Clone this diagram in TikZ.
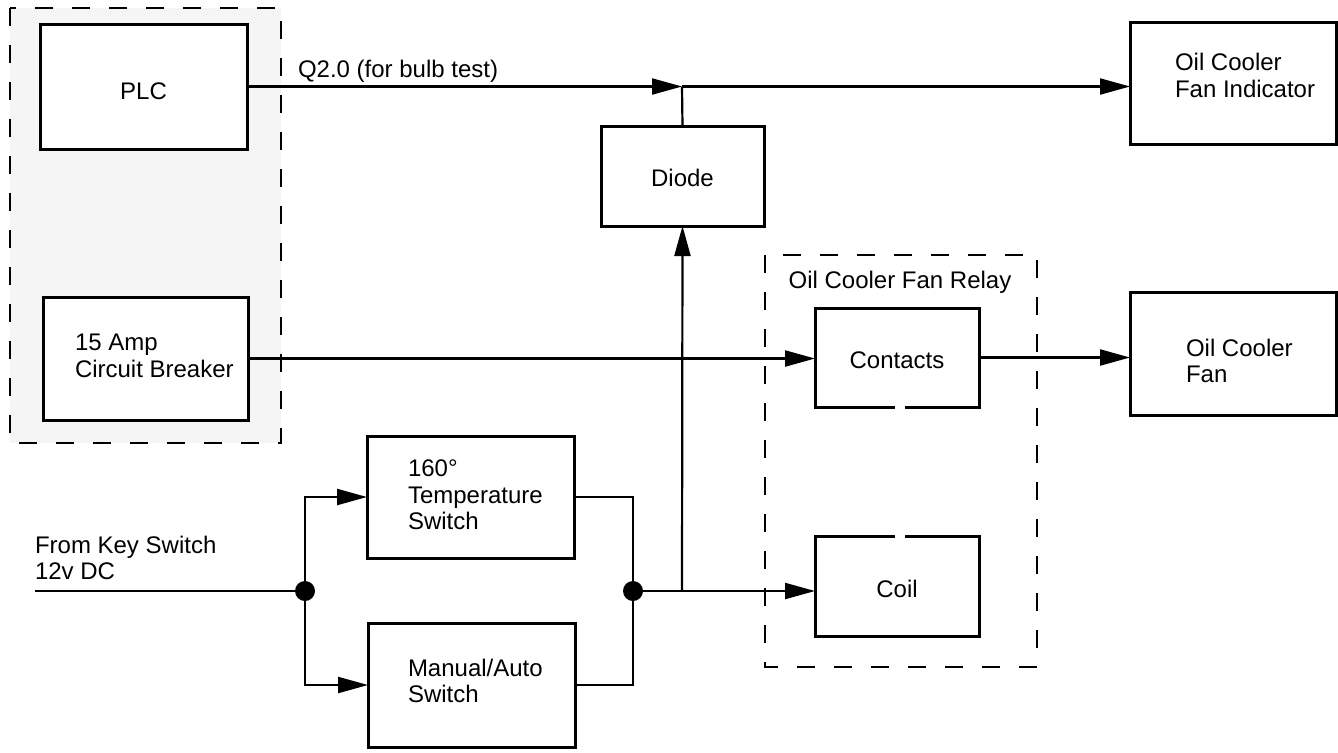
\documentclass[tikz,border=0pt]{standalone}
\usepackage{fontspec}
\setmainfont{Liberation Sans}
\usetikzlibrary{arrows.meta,calc}
\begin{document}
\begin{tikzpicture}[x=0.5pt,y=-0.5pt,
  box/.style={draw, fill=white, line width=1.5pt, inner sep=0pt, outer sep=0pt},
  openbox/.style={inner sep=0pt, outer sep=0pt},
  txt/.style={inner sep=0pt, outer sep=0pt, anchor=base west, font=\fontsize{12}{14}\selectfont},
  ctxt/.style={inner sep=0pt, outer sep=0pt, anchor=base, font=\fontsize{12}{14}\selectfont},
  wire/.style={line width=1.1pt},
  arr/.style={wire, -{Triangle[length=15pt,width=8pt]}},
  group/.style={line width=1.3pt, dash pattern=on 9pt off 9.5pt},
  dot/.style={circle, fill=black, inner sep=0pt, minimum size=10pt}]
\useasboundingbox (0,0) rectangle (1338,752);
% group boxes
\draw[group, fill=black!4] (10,8) rectangle (281,443);
\draw[group] (765,255) rectangle (1037,667);
\node[ctxt] (relaylbl) at (900,288) {Oil Cooler Fan Relay};
% boxes
\node[box, minimum width=103.5pt, minimum height=62.5pt] (plc) at (143.5,86.5) {};
\node[ctxt] (plct) at (143.5,99) {PLC};
\node[box, minimum width=102.5pt, minimum height=61.5pt] (cb) at (145.5,358.5) {};
\node[txt] (cbt1) at (75,350) {15 Amp};
\node[txt] (cbt2) at (75,377) {Circuit Breaker};
\node[box, minimum width=81.5pt, minimum height=50pt] (diode) at (682.5,176) {};
\node[ctxt] (diodet) at (682.5,186) {Diode};
\node[box, minimum width=103pt, minimum height=61pt] (ind) at (1233,83) {};
\node[txt] (indt1) at (1175,70) {Oil Cooler};
\node[txt] (indt2) at (1175,97) {Fan Indicator};
\node[box, minimum width=103pt, minimum height=61.5pt] (fan) at (1233,353.5) {};
\node[txt] (fant1) at (1186,356) {Oil Cooler};
\node[txt] (fant2) at (1186,382) {Fan};
\node[openbox, minimum width=82pt, minimum height=49.5pt] (cont) at (897,357.5) {};
\node[ctxt] (contt) at (897,368) {Contacts};
\draw[line width=1.5pt] ($(cont.south)+(-2,0)$) -- (cont.south west) -- (cont.north west) -- (cont.north east) -- (cont.south east) -- ($(cont.south)+(8,0)$);
\node[openbox, minimum width=82pt, minimum height=50pt] (coil) at (897,586) {};
\node[ctxt] (coilt) at (897,597) {Coil};
\draw[line width=1.5pt] ($(coil.north)+(-2,0)$) -- (coil.north west) -- (coil.south west) -- (coil.south east) -- (coil.north east) -- ($(coil.north)+(8,0)$);
\node[box, minimum width=103.5pt, minimum height=61pt] (ts) at (470.5,497) {};
\node[txt] (tst1) at (408,476) {160°};
\node[txt] (tst2) at (408,503) {Temperature};
\node[txt] (tst3) at (408,529) {Switch};
\node[box, minimum width=103.5pt, minimum height=62pt] (ma) at (471.5,685) {};
\node[txt] (mat1) at (408,676) {Manual/Auto};
\node[txt] (mat2) at (408,702) {Switch};
\node[txt] (key1) at (35,553) {From Key Switch};
\node[txt] (key2) at (35,579) {12v DC};
% junctions
\coordinate (j1) at (682,86.5);
\coordinate (in) at (35,591);
\node[dot] (d1) at (305,591) {};
\node[dot] (d2) at (633,591) {};
\coordinate (j2) at (682,591);
% connectors
\draw[arr] (plc.east) -- (j1);
\node[txt] (qlbl) at (298,77) {Q2.0 (for bulb test)};
\draw[wire] (diode.north) -- (j1);
\draw[arr] (j1) -- (j1 -| ind.west);
\draw[arr] (cb.east) -- (cb.east -| cont.west);
\draw[arr] (cont.east) -- (cont.east -| fan.west);
\draw[wire] (in) -- (d1);
\draw[arr] (d1) |- (ts.west);
\draw[arr] (d1) |- (ma.west);
\draw[wire] (ts.east) -| (d2);
\draw[wire] (ma.east) -| (d2);
\draw[arr] (d2) -- (d2 -| coil.west);
\draw[arr] (j2) -- (diode.south);
\end{tikzpicture}
\end{document}
